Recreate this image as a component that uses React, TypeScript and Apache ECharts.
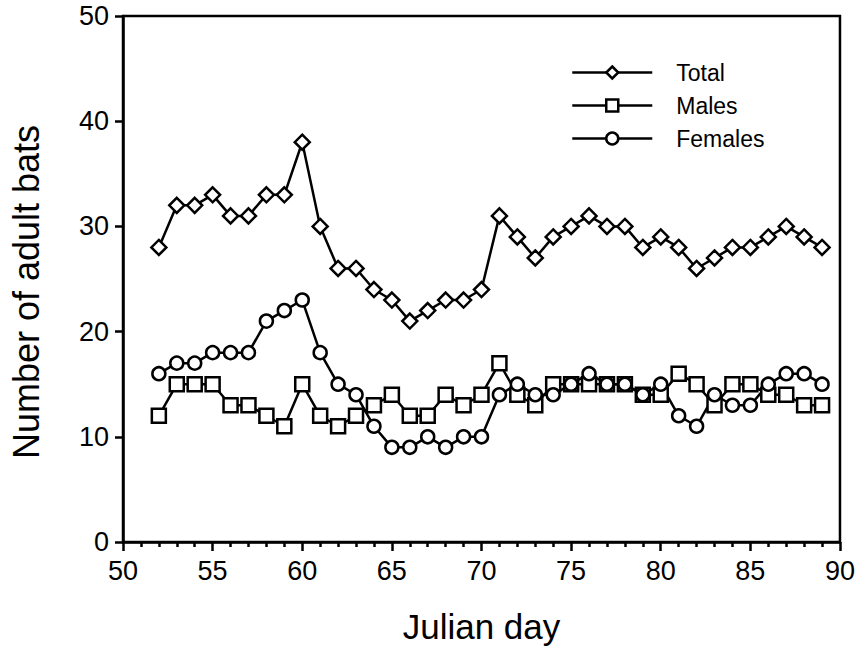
import React, { useEffect, useRef } from "react";
import * as echarts from "echarts";

const days = [52, 53, 54, 55, 56, 57, 58, 59, 60, 61, 62, 63, 64, 65, 66, 67, 68, 69, 70, 71, 72, 73, 74, 75, 76, 77, 78, 79, 80, 81, 82, 83, 84, 85, 86, 87, 88, 89];
const totalValues = [28, 32, 32, 33, 31, 31, 33, 33, 38, 30, 26, 26, 24, 23, 21, 22, 23, 23, 24, 31, 29, 27, 29, 30, 31, 30, 30, 28, 29, 28, 26, 27, 28, 28, 29, 30, 29, 28];
const maleValues = [12, 15, 15, 15, 13, 13, 12, 11, 15, 12, 11, 12, 13, 14, 12, 12, 14, 13, 14, 17, 14, 13, 15, 15, 15, 15, 15, 14, 14, 16, 15, 13, 15, 15, 14, 14, 13, 13];
const femaleValues = [16, 17, 17, 18, 18, 18, 21, 22, 23, 18, 15, 14, 11, 9, 9, 10, 9, 10, 10, 14, 15, 14, 14, 15, 16, 15, 15, 14, 15, 12, 11, 14, 13, 13, 15, 16, 16, 15];
const seriesNames = ["Total", "Males", "Females"];
const xTitle = "Julian day";
const yTitle = "Number of adult bats";

const FONT = "'Liberation Sans', Arial, Helvetica, sans-serif";

function pairs(vals: number[]) {
  return days.map((d, i) => [d, vals[i]]);
}

export default function App() {
  const ref = useRef<HTMLDivElement>(null);
  useEffect(() => {
    if (!ref.current) return;
    const chart = echarts.init(ref.current, undefined, { renderer: "svg" });
    const mk = (name: string, vals: number[], symbol: string, size: number) => ({
      name,
      type: "line",
      data: pairs(vals),
      symbol,
      symbolSize: size,
      showAllSymbol: true,
      lineStyle: { color: "#000", width: 2.5 },
      itemStyle: { color: "#fff", borderColor: "#000", borderWidth: 2.5 },
      emphasis: { disabled: true },
    });
    chart.setOption({
      animation: false,
      backgroundColor: "#fff",
      textStyle: { fontFamily: FONT, color: "#000" },
      grid: {
        left: 121,
        top: 16,
        right: 16,
        bottom: 108,
        show: true,
        borderColor: "#000",
        borderWidth: 2.5,
        backgroundColor: "transparent",
      },
      legend: {
        orient: "vertical",
        left: 571,
        top: 61,
        padding: 0,
        itemWidth: 80,
        itemHeight: 15,
        itemGap: 10,
        data: seriesNames,
        lineStyle: { width: 2.5, color: "#000" },
        itemStyle: { borderWidth: 2.5, borderColor: "#000", color: "#fff" },
        textStyle: { fontSize: 23, color: "#000", fontFamily: FONT, padding: [0, 0, 0, 19] },
      },
      xAxis: {
        type: "value",
        min: 50,
        max: 90,
        interval: 5,
        name: xTitle,
        nameLocation: "middle",
        nameGap: 67,
        nameTextStyle: { fontSize: 35, color: "#000", fontFamily: FONT },
        axisLine: { show: true, lineStyle: { color: "#000", width: 2.5 } },
        axisTick: { show: true, length: 9, inside: false, lineStyle: { color: "#000", width: 2.5 } },
        minorTick: { show: true, splitNumber: 5, length: 5, lineStyle: { color: "#000", width: 2.5 } },
        axisLabel: { fontSize: 27, color: "#000", margin: 15, fontFamily: FONT },
        splitLine: { show: false },
        minorSplitLine: { show: false },
      },
      yAxis: {
        type: "value",
        min: 0,
        max: 50,
        interval: 10,
        name: yTitle,
        nameLocation: "middle",
        nameGap: 79,
        nameRotate: 90,
        nameTextStyle: { fontSize: 36, color: "#000", fontFamily: FONT, padding: [0, 26, 0, 0] },
        axisLine: { show: true, lineStyle: { color: "#000", width: 2.5 } },
        axisTick: { show: true, length: 8, inside: false, lineStyle: { color: "#000", width: 2.5 } },
        axisLabel: { fontSize: 27, color: "#000", margin: 14, fontFamily: FONT },
        splitLine: { show: false },
      },
      series: [
        mk(seriesNames[0], totalValues, "diamond", 15),
        mk(seriesNames[1], maleValues, "rect", 14),
        mk(seriesNames[2], femaleValues, "circle", 13),
      ],
    });
    return () => chart.dispose();
  }, []);
  return (
    <div
      ref={ref}
      style={{ position: "fixed", left: 0, top: 0, width: 858, height: 650, background: "#fff" }}
    />
  );
}
